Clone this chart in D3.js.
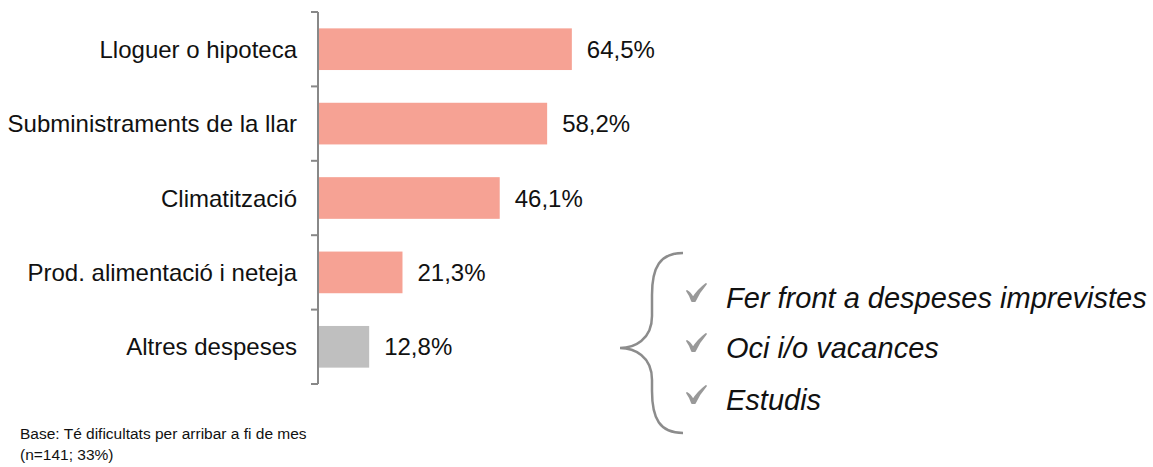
<!DOCTYPE html>
<html>
<head>
<meta charset="utf-8">
<script src="https://cdn.jsdelivr.net/npm/d3@7"></script>
<style>
  body { margin: 0; background: #fff; }
  svg { font-family: "Liberation Sans", Arial, sans-serif; }
</style>
</head>
<body>
<div id="chart"></div>
<script>
    // chart data
    var categories = ["Lloguer o hipoteca", "Subministraments de la llar", "Climatització",
      "Prod. alimentació i neteja", "Altres despeses"];
    var values = [64.5, 58.2, 46.1, 21.3, 12.8];
    var valueLabels = ["64,5%", "58,2%", "46,1%", "21,3%", "12,8%"];
    var otherItems = ["Fer front a despeses imprevistes", "Oci i/o vacances", "Estudis"];
    var baseNote = ["Base: Té dificultats per arribar a fi de mes", "(n=141; 33%)"];

    var svgWidth = 1153;
    var svgHeight = 467;

    var svg = d3.select("#chart")
      .append("svg")
      .attr("width", svgWidth)
      .attr("height", svgHeight);

    var axisX = 318;

    // scales
    var xLinearScale = d3.scaleLinear()
      .domain([0, 100])
      .range([axisX + 1, axisX + 1 + 392]);

    var yBandScale = d3.scaleBand()
      .domain(categories)
      .range([12, 384])
      .paddingInner(0.44)
      .paddingOuter(0.22);

    // bars
    svg.selectAll("rect.bar")
      .data(values)
      .enter()
      .append("rect")
      .attr("class", "bar")
      .attr("x", xLinearScale(0))
      .attr("y", (d, i) => yBandScale(categories[i]))
      .attr("width", d => xLinearScale(d) - xLinearScale(0))
      .attr("height", yBandScale.bandwidth())
      .attr("fill", (d, i) => i == values.length - 1 ? "#bfbfbf" : "#f6a294");

    // value labels
    svg.selectAll("text.val")
      .data(values)
      .enter()
      .append("text")
      .attr("class", "val")
      .attr("x", d => xLinearScale(d) + 15)
      .attr("y", (d, i) => yBandScale(categories[i]) + yBandScale.bandwidth() / 2)
      .attr("dy", "0.36em")
      .attr("font-size", 24)
      .attr("fill", "#111")
      .text((d, i) => valueLabels[i]);

    // category axis: ticks on category boundaries
    var axis = svg.append("g");
    axis.append("line")
      .attr("x1", axisX).attr("x2", axisX)
      .attr("y1", yBandScale.range()[0]).attr("y2", yBandScale.range()[1])
      .attr("stroke", "#888").attr("stroke-width", 2);

    var bounds = d3.range(categories.length + 1).map(i => yBandScale.range()[0] + i * (yBandScale.range()[1] - yBandScale.range()[0]) / categories.length);
    axis.selectAll("line.tick")
      .data(bounds)
      .enter()
      .append("line")
      .attr("class", "tick")
      .attr("x1", axisX - 7).attr("x2", axisX)
      .attr("y1", d => d).attr("y2", d => d)
      .attr("stroke", "#888").attr("stroke-width", 2);

    axis.selectAll("text.cat")
      .data(categories)
      .enter()
      .append("text")
      .attr("class", "cat")
      .attr("x", axisX - 21)
      .attr("y", d => yBandScale(d) + yBandScale.bandwidth() / 2)
      .attr("dy", "0.36em")
      .attr("text-anchor", "end")
      .attr("font-size", 24)
      .attr("fill", "#111")
      .text(d => d);

    // brace
    var bx = 620, braceTop = 253, braceMid = 348, braceBot = 433;
    svg.append("path")
      .attr("d", `M${bx + 63},${braceTop} C${bx + 40},${braceTop} ${bx + 32},${braceTop + 14} ${bx + 32},${braceTop + 42}
                  L${bx + 32},${braceMid - 32} C${bx + 32},${braceMid - 8} ${bx + 14},${braceMid} ${bx},${braceMid}
                  C${bx + 14},${braceMid} ${bx + 32},${braceMid + 8} ${bx + 32},${braceMid + 32}
                  L${bx + 32},${braceBot - 42} C${bx + 32},${braceBot - 14} ${bx + 40},${braceBot} ${bx + 63},${braceBot}`)
      .attr("fill", "none")
      .attr("stroke", "#8c8c8c")
      .attr("stroke-width", 2.5);

    // list of other expenses
    var itemY = [298, 348, 400];
    var items = svg.selectAll("g.item")
      .data(otherItems)
      .enter()
      .append("g")
      .attr("class", "item")
      .attr("transform", (d, i) => `translate(0, ${itemY[i]})`);

    // check mark
    items.append("path")
      .attr("d", "M687,-7 Q690,-6 693,0 Q698,-8 706,-14 Q699,-6 695,3 L692,3 Q690,-3 687,-7 Z")
      .attr("fill", "#999")
      .attr("stroke", "#999")
      .attr("stroke-width", 1.8)
      .attr("stroke-linejoin", "round");

    items.append("text")
      .attr("x", 726)
      .attr("dy", "0.36em")
      .attr("font-size", 29)
      .attr("font-style", "italic")
      .attr("fill", "#111")
      .text(d => d);

    // base note
    svg.selectAll("text.note")
      .data(baseNote)
      .enter()
      .append("text")
      .attr("class", "note")
      .attr("x", 20)
      .attr("y", (d, i) => 439 + i * 21)
      .attr("font-size", 15.5)
      .attr("fill", "#111")
      .text(d => d);
</script>
</body>
</html>
